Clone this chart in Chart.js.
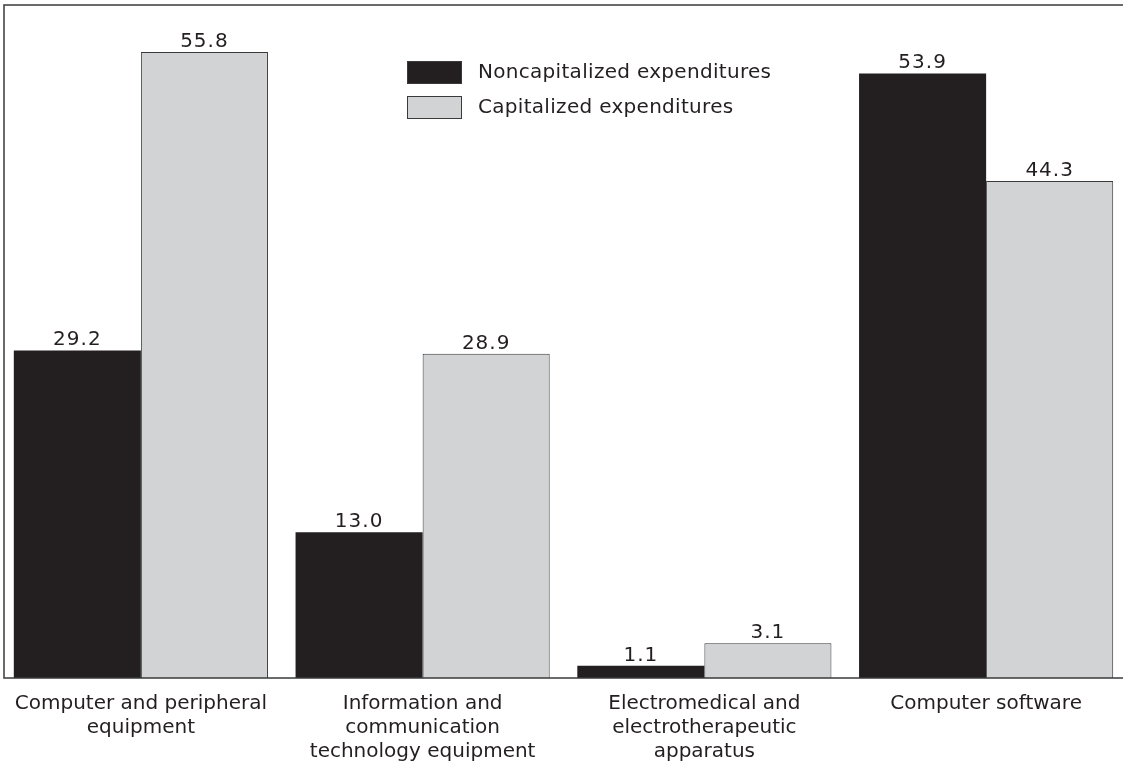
<!DOCTYPE html>
<html>
<head>
<meta charset="utf-8">
<script src="https://cdn.jsdelivr.net/npm/chart.js@4.4.0/dist/chart.umd.min.js"></script>
<style>
    html, body { margin: 0; padding: 0; background: #ffffff; overflow: hidden; }
    #wrap { width: 1123px; height: 767px; overflow: hidden; }
</style>
</head>
<body>
<div id="wrap"><canvas id="myChart" width="1127" height="767"></canvas></div>
<script>
const categories = [
    ['Computer and peripheral', 'equipment'],
    ['Information and', 'communication', 'technology equipment'],
    ['Electromedical and', 'electrotherapeutic', 'apparatus'],
    ['Computer software']
];
const seriesNames = ['Noncapitalized expenditures', 'Capitalized expenditures'];
const noncapitalized = [29.2, 13.0, 1.1, 53.9];
const capitalized = [55.8, 28.9, 3.1, 44.3];

const dark = '#231f20';
const grey = '#d1d3d4';
const fontFamily = '"DejaVu Sans", sans-serif';

// frame round the plot area
const framePlugin = {
    id: 'frame',
    afterDraw(chart) {
        const a = chart.chartArea;
        const ctx = chart.ctx;
        ctx.save();
        ctx.strokeStyle = '#3a3a3a';
        ctx.lineWidth = 1.5;
        ctx.strokeRect(a.left + 4, a.top, a.right - a.left + 10, a.bottom - a.top);
        ctx.restore();
    }
};

// value labels on top of each bar
const valuePlugin = {
    id: 'values',
    afterDatasetsDraw(chart) {
        const ctx = chart.ctx;
        ctx.save();
        ctx.font = '20px ' + fontFamily;
        ctx.letterSpacing = '1px';
        ctx.fillStyle = dark;
        ctx.textAlign = 'center';
        ctx.textBaseline = 'alphabetic';
        chart.data.datasets.forEach((ds, i) => {
            chart.getDatasetMeta(i).data.forEach((bar, j) => {
                ctx.fillText(ds.data[j].toFixed(1), bar.x, bar.y - 5);
            });
        });
        ctx.restore();
    }
};

// legend drawn inside the plot
const legendPlugin = {
    id: 'insideLegend',
    afterDraw(chart) {
        const ctx = chart.ctx;
        ctx.save();
        ctx.font = '20px ' + fontFamily;
        ctx.letterSpacing = '0.3px';
        ctx.textBaseline = 'middle';
        chart.data.datasets.forEach((ds, i) => {
            const y = 61 + i * 35;
            ctx.fillStyle = ds.backgroundColor;
            ctx.fillRect(407, y, 55, 23);
            ctx.strokeStyle = '#3a3a3a';
            ctx.lineWidth = 1;
            ctx.strokeRect(407.5, y + 0.5, 54, 22);
            ctx.fillStyle = dark;
            ctx.fillText(ds.label, 478, y + 12);
        });
        ctx.restore();
    }
};

const ctx = document.getElementById('myChart').getContext('2d');
const myChart = new Chart(ctx, {
    type: 'bar',
    data: {
        labels: categories,
        datasets: [
            {
                label: seriesNames[0],
                data: noncapitalized,
                backgroundColor: dark,
                borderWidth: 0,
                categoryPercentage: 0.902,
                barPercentage: 1.0,
            },
            {
                label: seriesNames[1],
                data: capitalized,
                backgroundColor: grey,
                borderColor: '#3a3a3a',
                borderWidth: 1,
                categoryPercentage: 0.902,
                barPercentage: 1.0,
            },
        ]
    },
    options: {
        responsive: false,
        animation: false,
        layout: {
            padding: { left: 0, top: 5, right: 0, bottom: 0 }
        },
        plugins: {
            legend: { display: false },
            tooltip: { enabled: false },
        },
        scales: {
            x: {
                grid: { display: false, drawTicks: false },
                border: { display: false },
                ticks: {
                    color: dark,
                    padding: 14,
                    maxRotation: 0,
                    autoSkip: false,
                    font: { family: fontFamily, size: 20, lineHeight: 1.2 }
                },
                afterFit(scale) {
                    scale.height = 89;
                }
            },
            y: {
                display: false,
                min: 0,
                max: 60,
            }
        }
    },
    plugins: [framePlugin, valuePlugin, legendPlugin]
});
</script>
</body>
</html>
